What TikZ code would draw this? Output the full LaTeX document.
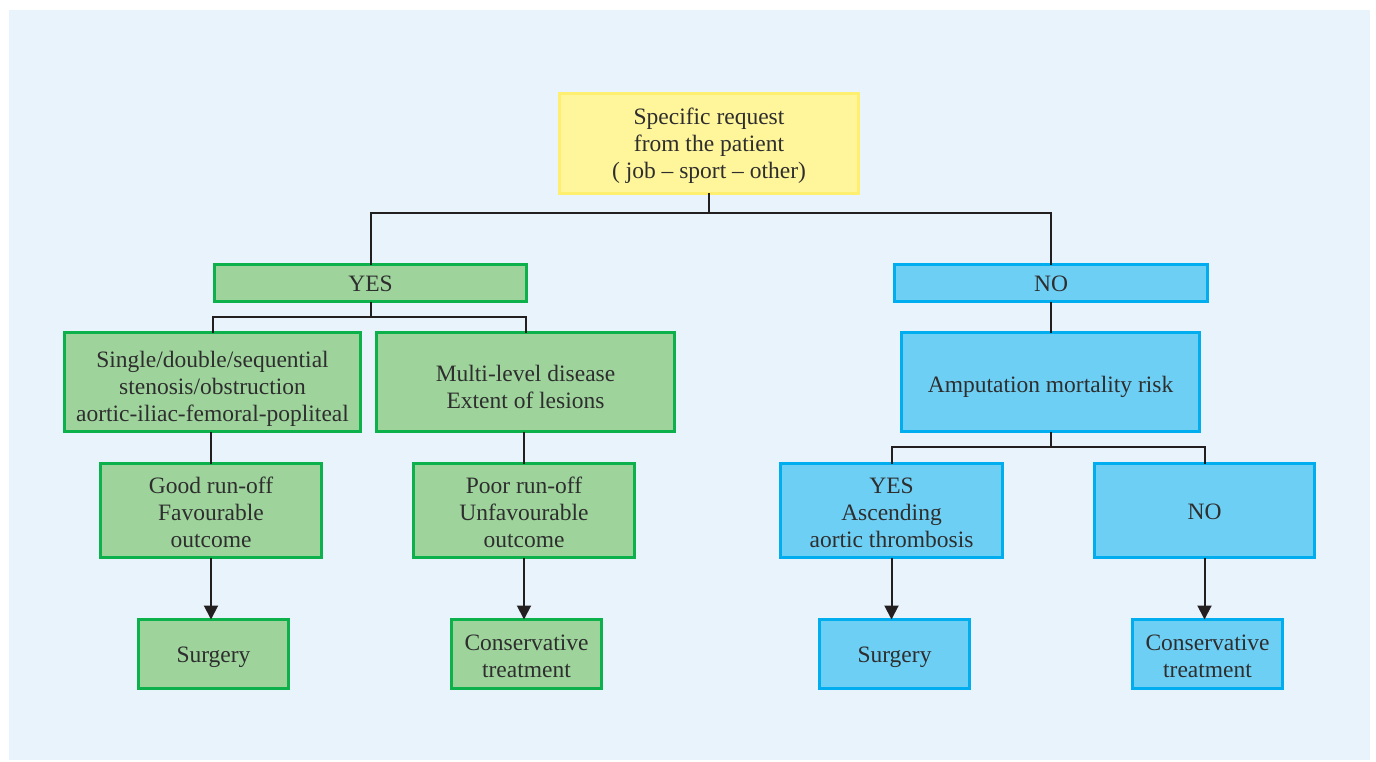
\documentclass[tikz,border=0pt]{standalone}
\usepackage{fontspec}
\setmainfont{Liberation Serif}
\usetikzlibrary{arrows.meta}
\definecolor{panel}{HTML}{E8F3FC}
\definecolor{ink}{HTML}{2E2E2E}
\definecolor{wire}{HTML}{231F20}
\definecolor{gfill}{HTML}{9ED49C}
\definecolor{gline}{HTML}{0DB14B}
\definecolor{bfill}{HTML}{6ECFF5}
\definecolor{bline}{HTML}{00AEEF}
\definecolor{yfill}{HTML}{FFF59A}
\definecolor{yline}{HTML}{FFEF70}
% struts for the first and last line of a box, so every text block
% reaches the same height above its first and below its last baseline
\newcommand{\hi}[1][23pt]{\rule{0pt}{#1}}
\newcommand{\lo}{\rule[-6pt]{0pt}{0pt}}
\tikzset{
  box/.style={draw, line width=3pt, inner sep=0pt, outer sep=0pt, align=center,
    text=ink, font=\fontsize{23.5}{27}\selectfont},
  gbox/.style={box, fill=gfill, draw=gline},
  bbox/.style={box, fill=bfill, draw=bline},
  ybox/.style={box, fill=yfill, draw=yline},
  wire/.style={draw=wire, line width=2pt},
  arr/.style={wire, -{Triangle[width=14pt,length=14pt]}},
}
\begin{document}
\begin{tikzpicture}[x=1pt,y=-1pt]
\useasboundingbox (0,0) rectangle (1376,762);
\fill[white] (0,0) rectangle (1376,762);
\fill[panel] (9,10) rectangle (1370,760);

% root
\node[ybox, minimum width=299pt, minimum height=100pt] (root) at (709,143.5)
  {\hi Specific request\\from the patient\\( job -- sport -- other)\lo};

% first split
\node[gbox, minimum width=312pt, minimum height=37pt] (yes) at (370.5,283) {\hi YES\lo};
\node[bbox, minimum width=313pt, minimum height=37pt] (no) at (1051,283) {\hi NO\lo};

% second row
\node[gbox, minimum width=296pt, minimum height=99pt] (single) at (212.5,382)
  {\hi[31pt]Single/double/sequential\\stenosis/obstruction\\aortic-iliac-femoral-popliteal\lo};
\node[gbox, minimum width=298pt, minimum height=99pt] (multi) at (525.5,382)
  {\hi[31pt]Multi-level disease\\Extent of lesions\lo};
\node[bbox, minimum width=298pt, minimum height=99pt] (amp) at (1050.5,382)
  {\hi[27pt]Amputation mortality risk\lo};

% third row
\node[gbox, minimum width=221pt, minimum height=94pt] (good) at (211,510.5)
  {\hi[25pt]Good run-off\\Favourable\\outcome\lo};
\node[gbox, minimum width=221pt, minimum height=94pt] (poor) at (524,510.5)
  {\hi[25pt]Poor run-off\\Unfavourable\\outcome\lo};
\node[bbox, minimum width=222pt, minimum height=94pt] (asc) at (891.5,510.5)
  {\hi[25pt]YES\\Ascending\\aortic thrombosis\lo};
\node[bbox, minimum width=220pt, minimum height=94pt] (nob) at (1204.5,510.5)
  {\hi NO\lo};

% outcomes
\node[gbox, minimum width=150pt, minimum height=69pt] (surg1) at (213.5,654) {\hi Surgery\lo};
\node[gbox, minimum width=150pt, minimum height=69pt] (cons1) at (526.5,654) {\hi[25pt]Conservative\\treatment\lo};
\node[bbox, minimum width=150pt, minimum height=69pt] (surg2) at (894.5,654) {\hi Surgery\lo};
\node[bbox, minimum width=150pt, minimum height=69pt] (cons2) at (1207.5,654) {\hi[25pt]Conservative\\treatment\lo};

% tree connectors
\coordinate (j1) at (709,213);
\coordinate (j2) at (370.5,317);
\coordinate (j3) at (1050.5,447);
\draw[wire] (root.south) -- (j1);
\draw[wire] (yes.north) |- (j1) -| (no.north);
\draw[wire] (yes.south) -- (j2);
\draw[wire] (single.north) |- (j2) -| (multi.north);
\draw[wire] (no.south) -- (no.south |- amp.north);
\draw[wire] (amp.south) -- (j3);
\draw[wire] (asc.north) |- (j3) -| (nob.north);
\draw[wire] (single.south -| good.north) -- (good.north);
\draw[wire] (multi.south -| poor.north) -- (poor.north);

% arrows to outcomes
\draw[arr] (good.south) -- (good.south |- surg1.north);
\draw[arr] (poor.south) -- (poor.south |- cons1.north);
\draw[arr] (asc.south) -- (asc.south |- surg2.north);
\draw[arr] (nob.south) -- (nob.south |- cons2.north);
\end{tikzpicture}
\end{document}
